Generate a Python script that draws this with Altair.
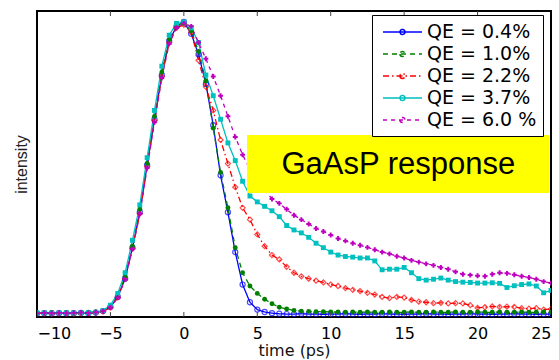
import altair as alt
import pandas as pd

TIME = [-10, -9.5, -9, -8.5, -8, -7.5, -7, -6.5, -6, -5.5, -5, -4.5, -4, -3.5, -3, -2.5, -2, -1.5, -1, -0.5, 0,
        0.5, 1, 1.5, 2, 2.5, 3, 3.5, 4, 4.5, 5, 5.5, 6, 6.5, 7, 7.5, 8, 8.5, 9, 9.5, 10,
        10.5, 11, 11.5, 12, 12.5, 13, 13.5, 14, 14.5, 15, 15.5, 16, 16.5, 17, 17.5, 18, 18.5, 19, 19.5, 20,
        20.5, 21, 21.5, 22, 22.5, 23, 23.5, 24, 24.5, 25]

QE_04 = [0.012, 0.013, 0.012, 0.013, 0.012, 0.013, 0.014, 0.013, 0.015, 0.02, 0.034, 0.068, 0.13, 0.235, 0.355, 0.515, 0.67, 0.82, 0.935, 0.985, 1.0,
         0.96, 0.89, 0.79, 0.65, 0.48, 0.355, 0.22, 0.11, 0.05, 0.025,
         0.017, 0.013, 0.011, 0.01, 0.01, 0.011, 0.01, 0.01, 0.009, 0.01,
         0.01, 0.011, 0.01, 0.009, 0.01, 0.01, 0.011, 0.01, 0.01, 0.009,
         0.01, 0.01, 0.011, 0.01, 0.01, 0.009, 0.01, 0.01, 0.011, 0.01,
         0.01, 0.009, 0.01, 0.01, 0.011, 0.01, 0.01, 0.009, 0.01, 0.01]

QE_10 = [0.014, 0.014, 0.015, 0.014, 0.015, 0.014, 0.015, 0.016, 0.017, 0.022, 0.036, 0.072, 0.138, 0.24, 0.365, 0.52, 0.68, 0.83, 0.94, 0.99, 0.995,
         0.97, 0.9, 0.8, 0.64, 0.49, 0.37, 0.235, 0.15, 0.105, 0.08,
         0.06, 0.045, 0.033, 0.027, 0.022, 0.02, 0.019, 0.018, 0.018, 0.017,
         0.017, 0.016, 0.017, 0.016, 0.017, 0.016, 0.016, 0.017, 0.016, 0.016,
         0.017, 0.016, 0.016, 0.017, 0.016, 0.016, 0.017, 0.016, 0.016, 0.017,
         0.016, 0.016, 0.017, 0.016, 0.016, 0.017, 0.016, 0.016, 0.017, 0.016]

QE_22 = [0.012, 0.012, 0.011, 0.012, 0.012, 0.011, 0.012, 0.013, 0.014, 0.019, 0.032, 0.066, 0.13, 0.232, 0.35, 0.51, 0.665, 0.815, 0.93, 0.98, 0.99,
         0.965, 0.87, 0.78, 0.70, 0.60, 0.52, 0.44, 0.37, 0.33, 0.28,
         0.24, 0.21, 0.195, 0.17, 0.15, 0.138, 0.13, 0.123, 0.117, 0.11,
         0.105, 0.098, 0.092, 0.088, 0.082, 0.076, 0.068, 0.064, 0.068, 0.066,
         0.058, 0.052, 0.05, 0.047, 0.048, 0.046, 0.047, 0.046, 0.04, 0.031,
         0.033, 0.036, 0.034, 0.035, 0.034, 0.03, 0.028, 0.03, 0.025, 0.027]

QE_37 = [0.014, 0.014, 0.013, 0.014, 0.014, 0.013, 0.014, 0.015, 0.016, 0.022, 0.04, 0.08, 0.15, 0.26, 0.38, 0.54, 0.70, 0.85, 0.955, 0.995, 1.0,
         0.98, 0.93, 0.82, 0.75, 0.67, 0.59, 0.53, 0.46, 0.41, 0.39,
         0.375, 0.36, 0.34, 0.31, 0.295, 0.285, 0.27, 0.25, 0.235, 0.22,
         0.21, 0.205, 0.203, 0.2, 0.2, 0.19, 0.16, 0.162, 0.162, 0.168,
         0.15, 0.13, 0.125, 0.128, 0.132, 0.125, 0.12, 0.118, 0.117, 0.115,
         0.115, 0.116, 0.114, 0.1, 0.106, 0.11, 0.112, 0.105, 0.082, 0.09]

QE_60 = [0.013, 0.014, 0.013, 0.014, 0.013, 0.014, 0.015, 0.014, 0.016, 0.02, 0.033, 0.066, 0.128, 0.23, 0.35, 0.505, 0.66, 0.81, 0.925, 0.98, 0.995,
         0.985, 0.93, 0.875, 0.815, 0.75, 0.68, 0.61, 0.55, 0.50, 0.46,
         0.43, 0.40, 0.385, 0.365, 0.345, 0.33, 0.315, 0.30, 0.29, 0.278,
         0.266, 0.258, 0.25, 0.243, 0.236, 0.228, 0.22, 0.214, 0.206, 0.20,
         0.192, 0.186, 0.18, 0.175, 0.168, 0.162, 0.153, 0.145, 0.142, 0.14,
         0.138, 0.145, 0.15, 0.148, 0.143, 0.138, 0.134, 0.128, 0.12, 0.115]

SERIES = ["QE = 0.4%", "QE = 1.0%", "QE = 2.2%", "QE = 3.7%", "QE = 6.0 %"]
VALUES = [QE_04, QE_10, QE_22, QE_37, QE_60]
COLORS = ["#0000ff", "#008000", "#ff0000", "#00bfbf", "#bf00bf"]
DASHES = [[1, 0], [5, 4], [6, 3, 1.5, 3], [1, 0], [4, 4]]
SHAPES = ["circle", "circle", "diamond", "square", "cross"]
OPEN_SERIES = ["QE = 0.4%", "QE = 2.2%"]

X_TICKS = [-10, -5, 0, 5, 10, 15, 20, 25]
ANN_X = [4.3, 24.9]
ANN_Y = [0.42, 0.617]
ANN_TEXT = "GaAsP response"

W, H = 514, 306

rows = []
for name, vals in zip(SERIES, VALUES):
    for t, v in zip(TIME, vals):
        rows.append({"t": t, "v": v, "QE": name, "QEp": name})
df = pd.DataFrame(rows)

xs = alt.Scale(domain=[-10, 25], nice=False, zero=False)
ys = alt.Scale(domain=[0, 1.037], nice=False, zero=False)

xaxis = alt.Axis(values=X_TICKS, ticks=False, domain=False, grid=False, labelFontSize=16,
                 labelPadding=8, labelColor="black", labelFont="DejaVu Sans", labelOverlap=False,
                 title="time (ps)", titleFontSize=16, titleFontWeight="normal", titlePadding=1,
                 titleColor="#111", titleFont="DejaVu Sans")
yaxis = alt.Axis(labels=False, ticks=False, domain=False, grid=False, title="intensity",
                 titleFontSize=16, titleFontWeight="normal", titlePadding=8, titleColor="#222",
                 titleFont="Liberation Sans")

base = alt.Chart(df)

leg = alt.Legend(title=None, orient="none", legendX=335, legendY=4)
lines = base.mark_line(strokeWidth=1.3, clip=True).encode(
    x=alt.X("t:Q", scale=xs, axis=xaxis),
    y=alt.Y("v:Q", scale=ys, axis=yaxis),
    color=alt.Color("QE:N", scale=alt.Scale(domain=SERIES, range=COLORS), legend=leg),
    strokeDash=alt.StrokeDash("QE:N", scale=alt.Scale(domain=SERIES, range=DASHES), legend=leg),
    order=alt.Order("t:Q"),
)

open_pts = base.transform_filter(
    alt.FieldOneOfPredicate(field="QEp", oneOf=OPEN_SERIES)
).mark_point(filled=False, size=26, strokeWidth=1.2, clip=True).encode(
    x=alt.X("t:Q", scale=xs),
    y=alt.Y("v:Q", scale=ys),
    stroke=alt.Stroke("QEp:N", scale=alt.Scale(domain=SERIES, range=COLORS), legend=None),
    shape=alt.Shape("QEp:N", scale=alt.Scale(domain=SERIES, range=SHAPES), legend=None),
)

filled_pts = base.transform_filter(
    {"not": alt.FieldOneOfPredicate(field="QEp", oneOf=OPEN_SERIES).to_dict()}
).mark_point(filled=True, size=24, opacity=1, clip=True).encode(
    x=alt.X("t:Q", scale=xs),
    y=alt.Y("v:Q", scale=ys),
    fill=alt.Fill("QEp:N", scale=alt.Scale(domain=SERIES, range=COLORS), legend=None),
    shape=alt.Shape("QEp:N", scale=alt.Scale(domain=SERIES, range=SHAPES), legend=None),
)

ann_df = pd.DataFrame({"x1": [ANN_X[0]], "x2": [ANN_X[1]], "y1": [ANN_Y[0]], "y2": [ANN_Y[1]],
                       "xc": [(ANN_X[0] + ANN_X[1]) / 2], "yc": [(ANN_Y[0] + ANN_Y[1]) / 2],
                       "label": [ANN_TEXT]})
ann_rect = alt.Chart(ann_df).mark_rect(color="#ffff00").encode(
    x=alt.X("x1:Q", scale=xs), x2="x2:Q", y=alt.Y("y1:Q", scale=ys), y2="y2:Q")
ann_text = alt.Chart(ann_df).mark_text(fontSize=31, font="Liberation Sans", color="black",
                                       align="center", baseline="middle", dy=1).encode(
    x=alt.X("xc:Q", scale=xs), y=alt.Y("yc:Q", scale=ys), text="label:N")

tick_df = pd.DataFrame({"t": X_TICKS[1:-1]})
top_ticks = alt.Chart(tick_df).mark_rule(color="#444", strokeWidth=1).encode(
    x=alt.X("t:Q", scale=xs), y=alt.value(0), y2=alt.value(5))
bot_ticks = alt.Chart(tick_df).mark_rule(color="#444", strokeWidth=1).encode(
    x=alt.X("t:Q", scale=xs), y=alt.value(H - 5), y2=alt.value(H))

chart = alt.layer(lines, open_pts, filled_pts, ann_rect, ann_text, top_ticks, bot_ticks).resolve_scale(
    shape="independent", stroke="independent", fill="independent"
).properties(
    width=W, height=H,
    autosize=alt.AutoSizeParams(type="none"),
    padding={"left": 37, "top": 11, "right": 8, "bottom": 43},
    background="white",
).configure_view(stroke="black", strokeWidth=2).configure_legend(
    strokeColor="black", fillColor="white", padding=6, cornerRadius=0,
    labelFontSize=19, labelFont="DejaVu Sans", labelColor="black",
    symbolType="M-0.6,0H3.3M1.1,0a0.25,0.25 0 1,0 0.5,0a0.25,0.25 0 1,0 -0.5,0",
    symbolSize=400, symbolStrokeWidth=1.5, labelOffset=27,
    rowPadding=1, labelLimit=300,
)

chart.save("out.html", embed_options={"renderer": "svg", "actions": False})
